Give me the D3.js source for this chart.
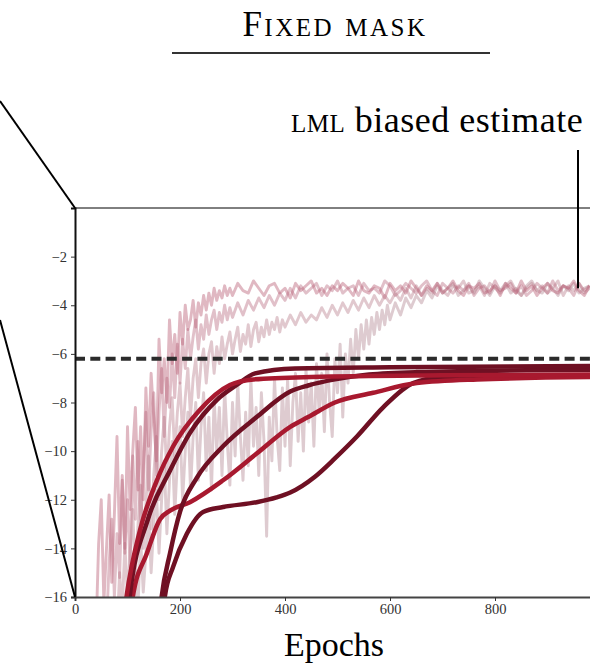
<!DOCTYPE html>
<html>
<head>
<meta charset="utf-8">
<script src="https://cdn.jsdelivr.net/npm/d3@7"></script>
<style>
  body { margin: 0; background: #fff; }
  text { font-family: "Liberation Serif", "DejaVu Serif", serif; }
</style>
</head>
<body>
<svg width="590" height="663"></svg>
<script>
// noisy runs: a "rise" part read every 5 epochs from its start,
// then a "tail" part read every 10 epochs
var riseStart = [40, 60, 80, 110];
var tailStart = [300, 300, 400, 600];

var rise1 = [-17.5,-13.8,-12.0,-16.2,-14.0,-11.8,-15.4,-12.6,-9.4,-13.8,
  -11.0,-14.2,-9.0,-12.4,-10.0,-8.2,-11.6,-9.0,-12.0,-7.4,
  -9.8,-6.8,-8.6,-10.4,-5.4,-7.6,-6.2,-8.0,-4.6,-6.4,
  -5.2,-6.8,-4.3,-5.6,-4.0,-5.0,-4.6,-3.8,-4.9,-3.9,
  -4.4,-3.6,-4.2,-3.5,-4.0,-3.3,-3.8,-3.4,-3.7,-3.2,
  -3.6,-3.3];
var tail1 = [-3.6,-3.1,-3.4,-3.5,-3.0,-3.3,-3.6,-3.2,-3.1,-3.5,
  -3.3,-3.7,-3.1,-3.4,-3.2,-3.0,-3.5,-3.3,-3.6,-3.2,
  -3.4,-3.1,-3.3,-3.6,-3.0,-3.4,-3.5,-3.2,-3.3,-3.7,
  -3.1,-3.4,-3.2,-3.5,-3.0,-3.3,-3.6,-3.2,-3.4,-3.1,
  -3.5,-3.3,-3.0,-3.4,-3.6,-3.2,-3.3,-3.1,-3.5,-3.4,
  -3.2,-3.6,-3.1,-3.3,-3.5,-3.0,-3.4,-3.2,-3.6,-3.3,
  -3.1,-3.4,-3.5,-3.2,-3.3,-3.0,-3.4,-3.6,-3.2];

var rise2 = [-17.2,-14.6,-12.8,-16.0,-13.4,-15.2,-11.2,-14.0,-12.0,-14.8,
  -10.2,-12.8,-9.6,-13.2,-10.8,-8.4,-11.6,-9.2,-7.6,-11.0,
  -8.4,-6.6,-9.4,-7.0,-8.2,-6.0,-7.8,-5.6,-7.2,-5.4,
  -6.6,-5.0,-6.2,-5.3,-4.6,-5.8,-4.8,-5.4,-4.4,-5.2,
  -4.6,-4.2,-5.0,-4.3,-4.7,-4.0,-4.6,-4.1];
var tail2 = [-4.5,-3.9,-4.4,-3.8,-4.2,-3.7,-4.1,-3.6,-4.0,-3.5,
  -3.8,-3.3,-3.7,-3.2,
  -3.5,-3.3,-3.1,-3.6,-3.2,-3.4,-3.0,-3.5,-3.3,-3.2,
  -3.6,-3.1,-3.4,-3.3,-3.5,-3.0,-3.2,-3.6,-3.4,-3.1,
  -3.3,-3.5,-3.2,-3.0,-3.4,-3.6,-3.1,-3.3,-3.5,-3.2,
  -3.4,-3.1,-3.6,-3.3,-3.2,-3.5,-3.0,-3.4,-3.3,-3.1,
  -3.5,-3.2,-3.6,-3.4,-3.1,-3.3,-3.5,-3.0,-3.4,-3.2,
  -3.3,-3.6,-3.1,-3.4,-3.2];

var rise3 = [-17.4,-15.0,-16.6,-13.8,-16.0,-14.2,-12.4,-15.2,-13.0,-11.4,
  -14.0,-12.2,-10.2,-13.2,-11.0,-9.4,-12.0,-10.0,-8.6,-11.0,
  -9.0,-7.8,-10.2,-8.4,-7.2,-9.4,-7.8,-6.6,-8.6,-7.0,
  -6.2,-7.8,-6.4,-5.8,-7.2,-6.0,-5.5,-6.8,-5.7,-6.4,
  -5.3,-6.2,-5.6,-5.1,-6.0,-5.4,-4.9,-5.9,-5.2,-5.6,
  -4.8,-5.7,-5.0,-4.7,-5.5,-4.9,-5.3,-4.6,-5.2,-4.7,
  -5.0,-4.5,-5.1,-4.6];
var tail3 = [-4.9,-4.4,-4.8,-4.3,-4.7,-4.4,-4.6,-4.1,-4.5,-4.0,
  -4.4,-3.9,-4.3,-3.8,-4.2,-3.7,-4.1,-3.6,-4.0,-3.6,
  -3.9,-3.5,-3.8,-3.3,-3.7,-3.2,-3.6,-3.3,
  -3.5,-3.1,-3.4,-3.6,-3.2,-3.3,-3.0,-3.5,-3.4,-3.2,
  -3.6,-3.1,-3.3,-3.5,-3.2,-3.0,-3.4,-3.6,-3.3,-3.1,
  -3.4,-3.2,-3.5,-3.3,-3.0,-3.6,-3.2,-3.4,-3.1,-3.5,
  -3.3];

var rise4 = [-17.2,-15.0,-16.4,-13.6,-15.8,-14.2,-12.4,-15.0,-13.0,-11.6,
  -14.2,-12.0,-10.4,-13.4,-11.2,-9.6,-12.6,-10.4,
  -9.0,-12.0,-10.0,-8.4,-11.6,-9.4,-8.0,-11.2,-9.0,-7.6,
  -10.8,-8.6,-11.6,-7.8,-10.0,-8.2,-11.0,-7.4,-9.6,-11.4,
  -8.0,-10.2,-7.2,-9.4,-11.2,-8.4,-10.6,-7.0,-9.8,-8.2,
  -11.0,-7.6,-9.6,-13.5,-8.6,-10.4,-7.0,-9.4,-10.8,-7.4,
  -9.8,-7.0,-10.6,-8.0,-6.8,-9.6,-7.6,-10.0,-6.6,-8.8,
  -7.2,-9.8,-6.4,-8.4,-6.8,-9.2,-6.0,-8.0,-9.4,-6.2,
  -7.6,-5.6,-8.6,-6.0,-7.2,-5.4,-6.8,-5.0,-6.2,-4.8,
  -5.8,-4.6,-5.6,-4.5,-5.2,-4.3,-5.0,-4.2,-4.8,-4.0];
var tail4 = [-4.6,-3.9,-4.4,-3.7,-4.1,-3.6,-3.9,-3.4,-3.7,-3.2,
  -3.5,-3.3,-3.1,-3.6,-3.4,-3.2,-3.5,-3.0,-3.3,-3.6,
  -3.2,-3.4,-3.1,-3.5,-3.3,-3.6,-3.2,-3.0,-3.4,-3.5,
  -3.1,-3.3,-3.6,-3.2,-3.4,-3.1,-3.5,-3.3,-3.2];

// smooth runs: [epoch, value]
var smoothA = [[92,-17],[98,-16],[124,-13.24],[156,-11.2],[187,-9.8],[238,-8.3],[295,-7.28],[340,-7.05],[450,-6.95],[700,-6.88],[1000,-6.85]];
var smoothB = [[99,-17],[104,-16],[139,-12.8],[181,-10.8],[219,-9.25],[270,-7.9],[308,-7.28],[343,-6.8],[419,-6.6],[600,-6.55],[1000,-6.5]];
var smoothC = [[104,-17],[110,-16],[137,-14.2],[162,-12.8],[181,-12.45],[219,-12.1],[282,-11.2],[346,-10.1],[410,-9.0],[444,-8.6],[495,-8.0],[568,-7.6],[651,-7.2],[766,-7.05],[1000,-6.95]];
var smoothD = [[160,-17],[165,-16],[181,-14.2],[200,-12.5],[232,-11.1],[282,-9.8],[346,-8.6],[410,-7.55],[444,-7.3],[495,-7.05],[560,-6.85],[650,-6.75],[1000,-6.65]];
var smoothE = [[166,-17],[171,-16],[187,-14.75],[213,-13.4],[244,-12.5],[282,-12.3],[346,-12.1],[384,-11.9],[410,-11.7],[457,-11.05],[495,-10.3],[537,-9.4],[587,-8.2],[644,-7.2],[695,-6.98],[1000,-6.9]];

var yTicks = [-16, -14, -12, -10, -8, -6, -4, -2];
var xTicks = [0, 200, 400, 600, 800];
var biasedLevel = -6.2;

var svg = d3.select("svg"),
    plotL = 75, plotT = 208, plotB = 597, plotR = 600;

var x = d3.scaleLinear().domain([0, 1000]).range([plotL, plotR]);
var y = d3.scaleLinear().domain([-16, 0]).range([plotB, plotT]);

svg.append("clipPath").attr("id", "plot")
  .append("rect").attr("x", plotL).attr("y", plotT)
  .attr("width", plotR - plotL).attr("height", plotB - plotT);

var plot = svg.append("g").attr("clip-path", "url(#plot)");

var line = d3.line()
    .x(function(d) { return x(d[0]); })
    .y(function(d) { return y(d[1]); });

function runPoints(rise, tail, i) {
  var pts = rise.map(function(v, j) { return [riseStart[i] + j * 5, v]; });
  return pts.concat(tail.map(function(v, j) { return [tailStart[i] + j * 10, v]; }));
}

var noisy = [
  { pts: runPoints(rise4, tail4, 3), color: "#bd98a1", op: 0.5 },
  { pts: runPoints(rise3, tail3, 2), color: "#c08c98", op: 0.48 },
  { pts: runPoints(rise2, tail2, 1), color: "#b86a7e", op: 0.42 },
  { pts: runPoints(rise1, tail1, 0), color: "#bb6278", op: 0.45 }
];

noisy.forEach(function(s) {
  plot.append("path")
    .attr("d", line(s.pts))
    .attr("fill", "none")
    .attr("stroke", s.color)
    .attr("stroke-opacity", s.op)
    .attr("stroke-width", 2.9)
    .attr("stroke-linejoin", "round");
});

var smoothLine = d3.line()
    .x(function(d) { return x(d[0]); })
    .y(function(d) { return y(d[1]); })
    .curve(d3.curveMonotoneX);

var smooth = [
  { pts: smoothE, color: "#6f1023" },
  { pts: smoothC, color: "#a8192f" },
  { pts: smoothD, color: "#6f1023" },
  { pts: smoothB, color: "#6f1023" },
  { pts: smoothA, color: "#a8192f" }
];
smooth.forEach(function(s) {
  plot.append("path")
    .attr("d", smoothLine(s.pts))
    .attr("fill", "none")
    .attr("stroke", s.color)
    .attr("stroke-width", 4.5)
    .attr("stroke-linecap", "round");
});

plot.append("line")
  .attr("x1", plotL).attr("x2", plotR)
  .attr("y1", y(biasedLevel)).attr("y2", y(biasedLevel))
  .attr("stroke", "#2b2b2b")
  .attr("stroke-width", 4)
  .attr("stroke-dasharray", "10,5.3");

// axes
var yAxis = svg.append("g")
  .attr("transform", "translate(" + plotL + ",0)")
  .call(d3.axisLeft(y).tickValues(yTicks).tickSize(4).tickPadding(4));
var xAxis = svg.append("g")
  .attr("transform", "translate(0," + plotB + ")")
  .call(d3.axisBottom(x).tickValues(xTicks).tickSize(4).tickPadding(3));

[yAxis, xAxis].forEach(function(a) {
  a.selectAll("text").attr("font-size", 14.5).attr("fill", "#333")
    .style("font-family", "'Liberation Serif', serif");
  a.selectAll(".tick line").attr("stroke", "#333");
});
yAxis.select(".domain").attr("stroke", "#111").attr("stroke-width", 2);
xAxis.select(".domain").attr("stroke", "#444").attr("stroke-width", 2);

svg.append("line")
  .attr("x1", plotL).attr("x2", plotR)
  .attr("y1", plotT).attr("y2", plotT)
  .attr("stroke", "#000").attr("stroke-width", 1);

// zoom connectors on the left
svg.append("line").attr("x1", 0).attr("y1", 101).attr("x2", plotL).attr("y2", plotT)
  .attr("stroke", "#000").attr("stroke-width", 2);
svg.append("line").attr("x1", 0).attr("y1", 320).attr("x2", plotL).attr("y2", plotB)
  .attr("stroke", "#000").attr("stroke-width", 2);

// title
svg.append("text")
  .attr("x", 335).attr("y", 36)
  .attr("text-anchor", "middle")
  .attr("font-size", 35)
  .attr("letter-spacing", 2.5)
  .style("font-variant", "small-caps")
  .text("Fixed mask");
svg.append("line")
  .attr("x1", 172).attr("x2", 490).attr("y1", 53).attr("y2", 53)
  .attr("stroke", "#333").attr("stroke-width", 2);

// annotation
var ann = svg.append("text")
  .attr("x", 291).attr("y", 132)
  .attr("font-size", 36)
  .attr("letter-spacing", 0.5);
ann.append("tspan").style("font-variant", "small-caps").text("lml");
ann.append("tspan").text(" biased estimate");

svg.append("line")
  .attr("x1", 578).attr("x2", 578).attr("y1", 150).attr("y2", y(-3.3))
  .attr("stroke", "#000").attr("stroke-width", 2);

svg.append("text")
  .attr("x", 334).attr("y", 656)
  .attr("text-anchor", "middle")
  .attr("font-size", 34)
  .text("Epochs");
</script>
</body>
</html>
